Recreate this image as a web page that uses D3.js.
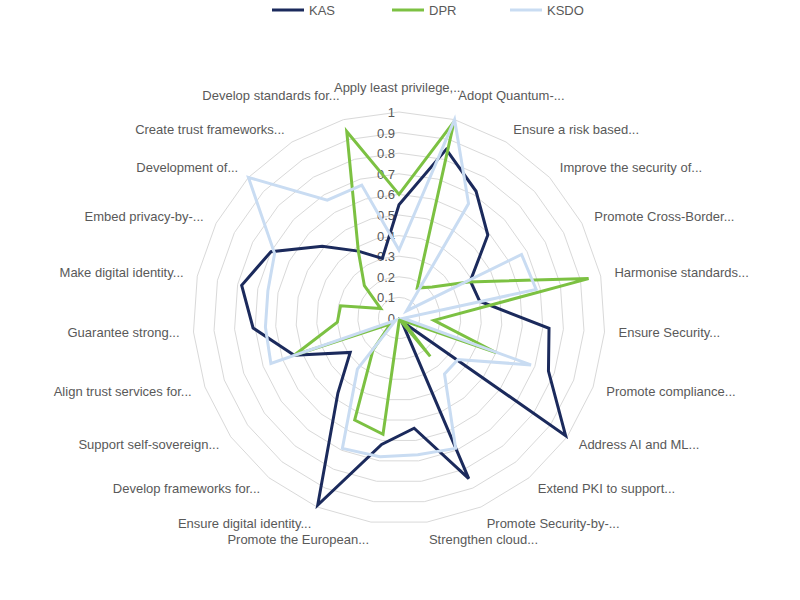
<!DOCTYPE html>
<html>
<head>
<meta charset="utf-8">
<script src="https://cdn.jsdelivr.net/npm/d3@7"></script>
<style>
 body { margin: 0; background: #fff; }
 text { font-family: "Liberation Sans", Arial, sans-serif; fill: #595959; }
</style>
</head>
<body>
<svg id="chart" width="800" height="600"></svg>
<script>
 // axis names, clockwise from the top
 const categories = [
     "Apply least privilege,...", "Adopt Quantum-...", "Ensure a risk based...",
     "Improve the security of...", "Promote Cross-Border...", "Harmonise standards...",
     "Ensure Security...", "Promote compliance...", "Address AI and ML...",
     "Extend PKI to support...", "Promote Security-by-...", "Strengthen cloud...",
     "Promote the European...", "Ensure digital identity...", "Develop frameworks for...",
     "Support self-sovereign...", "Align trust services for...", "Guarantee strong...",
     "Make digital identity...", "Embed privacy-by-...", "Development of...",
     "Create trust frameworks...", "Develop standards for..."
 ];
 const kas = [0.55, 0.85, 0.72, 0.59, 0.39, 0.4, 0.73, 0.77, 0.99, 0.02, 0.85, 0.54,
     0.62, 0.99, 0.47, 0.29, 0.54, 0.71, 0.78, 0.7, 0.51, 0.38, 0.3];
 const dpr = [0.6, 0.99, 0.17, 0.22, 0.38, 0.94, 0.17, 0.5, 0.02, 0.24, 0.01, 0.01,
     0.57, 0.54, 0.2, 0.05, 0.54, 0.3, 0.29, 0.1, 0.23, 0.38, 0.94];
 const ksdo = [0.33, 1, 0.65, 0.05, 0.67, 0.68, 0.02, 0.68, 0.35, 0.35, 0.69, 0.67,
     0.68, 0.69, 0.32, 0.02, 0.66, 0.65, 0.65, 0.68, 1, 0.67, 0.67];
 const ticks = [0, 0.1, 0.2, 0.3, 0.4, 0.5, 0.6, 0.7, 0.8, 0.9, 1];

 const series = [
     { name: "KAS", values: kas, color: "#1b2a5c" },
     { name: "DPR", values: dpr, color: "#7cc142" },
     { name: "KSDO", values: ksdo, color: "#c9dcf2" }
 ];

 const svg = d3.select("#chart");
 const cx = 399, cy = 318, R = 206;
 const r = d3.scaleLinear().domain([0, 1]).range([0, R]);
 const angle = d3.scaleLinear().domain([0, categories.length]).range([0, 2 * Math.PI]);

 const g = svg.append("g").attr("transform", `translate(${cx},${cy})`);

 const ring = (v) => d3.lineRadial()
     .angle((d, i) => angle(i))
     .radius(() => r(v))
     .curve(d3.curveLinearClosed)(categories);

 g.selectAll(".grid")
     .data(ticks.slice(1))
     .join("path")
     .attr("d", d => ring(d))
     .attr("fill", "none")
     .attr("stroke", "#d9d9d9")
     .attr("stroke-width", 1);

 g.selectAll(".tick")
     .data(ticks)
     .join("text")
     .attr("x", -4)
     .attr("y", d => -r(d) + 5)
     .attr("text-anchor", "end")
     .attr("font-size", 13)
     .text(d => d);

 const line = d3.lineRadial()
     .angle((d, i) => angle(i))
     .radius(d => r(d))
     .curve(d3.curveLinearClosed);

 g.selectAll(".series")
     .data(series)
     .join("path")
     .attr("d", d => line(d.values))
     .attr("fill", "none")
     .attr("stroke", d => d.color)
     .attr("stroke-width", 3)
     .attr("stroke-linejoin", "miter");

 // axis labels
 g.selectAll(".lab")
     .data(categories)
     .join("text")
     .attr("font-size", 13)
     .each(function(d, i) {
         const a = angle(i);
         const rr = R + 14;
         const x = Math.sin(a) * rr, y = -Math.cos(a) * rr;
         const s = Math.sin(a), c = -Math.cos(a);
         let anchor = (i == 0) ? "middle" : (s > 0 ? "start" : "end");
         let dy = 4;
         if (c < -0.9) dy = -6;
         if (c > 0.9) dy = 8;
         d3.select(this)
             .attr("x", x)
             .attr("y", y + dy)
             .attr("text-anchor", anchor)
             .text(d);
     });

 // legend
 const legend = svg.append("g").attr("transform", "translate(272,10)");
 const widths = [0, 120, 238];
 series.forEach((s, i) => {
     const lg = legend.append("g").attr("transform", `translate(${widths[i]},0)`);
     lg.append("line").attr("x1", 0).attr("x2", 32).attr("y1", 0).attr("y2", 0)
         .attr("stroke", s.color).attr("stroke-width", 3);
     lg.append("text").attr("x", 37).attr("y", 5).attr("font-size", 13).text(s.name);
 });
</script>
</body>
</html>
